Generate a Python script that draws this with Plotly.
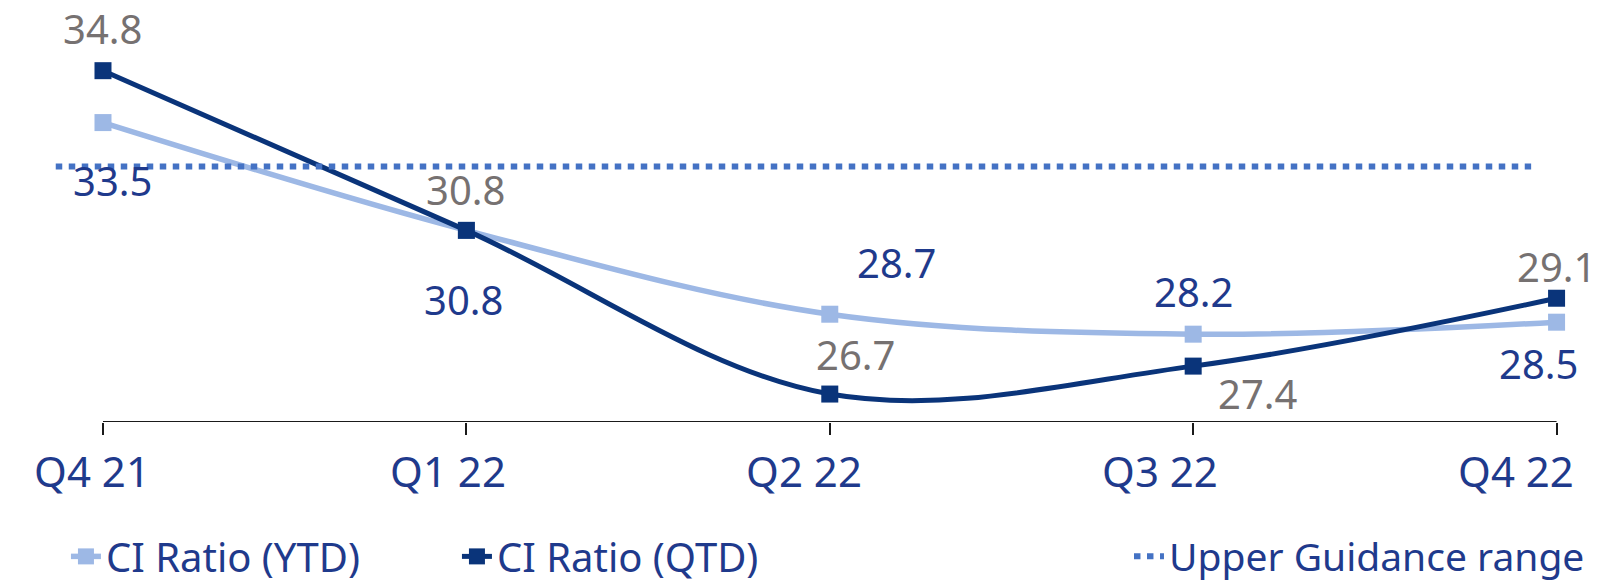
import plotly.graph_objects as go

# ---- data ----
categories = ["Q4 21", "Q1 22", "Q2 22", "Q3 22", "Q4 22"]
ci_ytd = [33.5, 30.8, 28.7, 28.2, 28.5]
ci_qtd = [34.8, 30.8, 26.7, 27.4, 29.1]
guidance_value = 32.4
guidance_span = [-0.13, 3.93]  # category-index extent of the dotted guidance line

# label offsets (px) for data labels: (xshift, yshift)
ytd_label_offsets = [(10, -58), (-3, -69), (67, 52), (0, 43), (-18, -41)]
qtd_label_offsets = [(0, 42), (-0.5, 41), (26, 40), (64, -27), (0, 32)]

NAVY_LINE = "#0A347A"
LIGHT_LINE = "#9DB8E5"
GUIDE = "#4472C4"
NAVY_TEXT = "#1F3A8C"
GRAY_TEXT = "#767171"
FONT = "Noto Sans"

idx = list(range(len(categories)))

fig = go.Figure()

fig.add_trace(go.Scatter(
    x=idx, y=ci_ytd, name="CI Ratio (YTD)", mode="lines+markers",
    line=dict(color=LIGHT_LINE, width=5.5, shape="spline", smoothing=1.0),
    marker=dict(symbol="square", size=17, color=LIGHT_LINE),
    cliponaxis=False, legend="legend", hoverinfo="skip",
))
fig.add_trace(go.Scatter(
    x=idx, y=ci_qtd, name="CI Ratio (QTD)", mode="lines+markers",
    line=dict(color=NAVY_LINE, width=5, shape="spline", smoothing=1.0),
    marker=dict(symbol="square", size=17, color=NAVY_LINE),
    cliponaxis=False, legend="legend", hoverinfo="skip",
))
fig.add_trace(go.Scatter(
    x=guidance_span, y=[guidance_value] * len(guidance_span), name="Upper Guidance range",
    mode="lines", line=dict(color=GUIDE, width=6, dash="6.5px,6.5px"),
    legend="legend2", hoverinfo="skip",
))
# invisible trace to activate label axis
fig.add_trace(go.Scatter(
    x=categories, y=[None] * len(categories), xaxis="x2", showlegend=False,
    hoverinfo="skip", mode="markers",
))

annotations = []
for i, v in enumerate(ci_ytd):
    dx, dy = ytd_label_offsets[i]
    annotations.append(dict(x=i, y=v, xref="x", yref="y", text=f"{v:.1f}", showarrow=False,
                            xshift=dx, yshift=dy, font=dict(family=FONT, size=40, color=NAVY_TEXT)))
for i, v in enumerate(ci_qtd):
    dx, dy = qtd_label_offsets[i]
    annotations.append(dict(x=i, y=v, xref="x", yref="y", text=f"{v:.1f}", showarrow=False,
                            xshift=dx, yshift=dy, font=dict(family=FONT, size=40, color=GRAY_TEXT)))

# page body has an 8px default margin, so the figure is sized to fit inside it
fig.update_layout(
    width=1592, height=576,
    margin=dict(l=0, r=0, t=0, b=162, autoexpand=False),
    plot_bgcolor="white", paper_bgcolor="white",
    font=dict(family=FONT, color=NAVY_TEXT),
    showlegend=True,
    xaxis=dict(
        range=[-0.2614, 4.1195], tickmode="array", tickvals=idx, showticklabels=False,
        ticks="outside", ticklen=12, tickwidth=2, tickcolor="#1a1a1a",
        showgrid=False, zeroline=False, showline=False, automargin=False,
    ),
    xaxis2=dict(
        overlaying="x", anchor="y", side="bottom", type="category",
        range=[-0.236, 4.236], showgrid=False, zeroline=False, showline=False,
        ticks="", tickfont=dict(family=FONT, size=42, color=NAVY_TEXT),
        ticklabelstandoff=22, automargin=False,
    ),
    yaxis=dict(range=[26.0, 36.37], visible=False, showgrid=False, zeroline=False),
    shapes=[dict(type="line", xref="x", yref="y", x0=idx[0], x1=idx[-1], y0=26.0, y1=26.0,
                 line=dict(color="#1a1a1a", width=2))],
    annotations=annotations,
    legend=dict(orientation="h", x=0.0364, xanchor="left", y=-0.3246, yanchor="middle",
                font=dict(family=FONT, size=40, color=NAVY_TEXT), entrywidth=346,
                bgcolor="rgba(0,0,0,0)"),
    legend2=dict(orientation="h", x=0.9937, xanchor="right", y=-0.3246, yanchor="middle",
                 font=dict(family=FONT, size=39, color=NAVY_TEXT),
                 bgcolor="rgba(0,0,0,0)"),
)

fig.write_html("out.html")
